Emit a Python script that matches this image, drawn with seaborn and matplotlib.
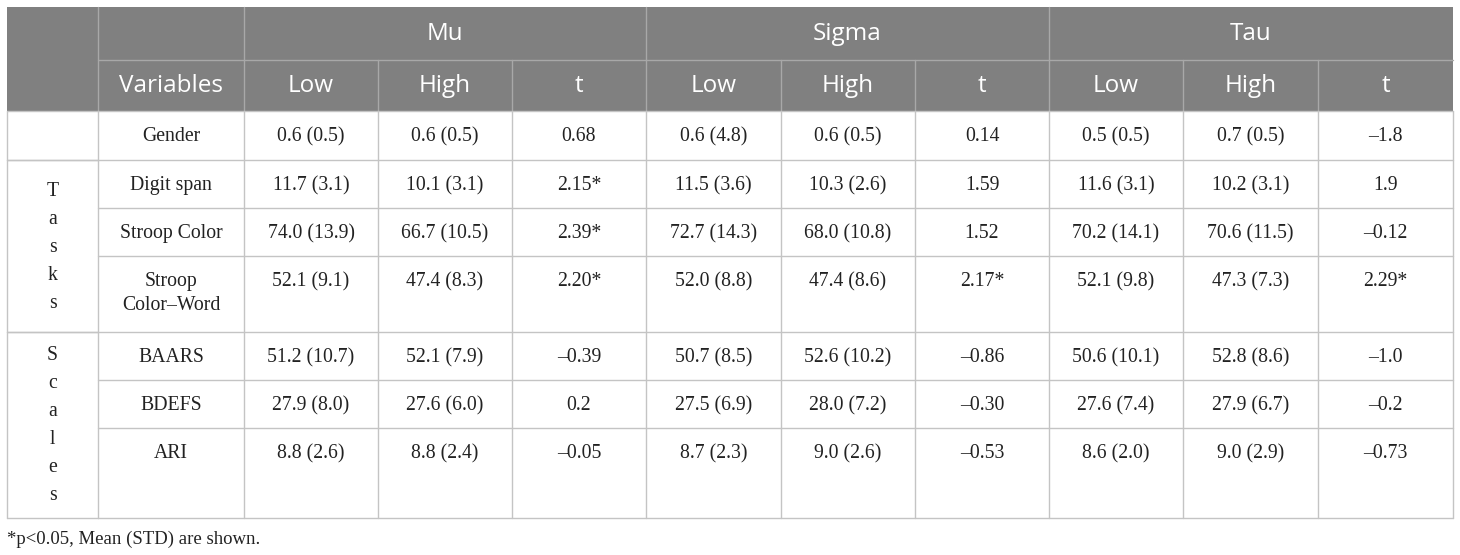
import numpy as np
import seaborn as sns
import matplotlib.pyplot as plt
from matplotlib.patches import Rectangle

# table values
groups = ["Mu", "Sigma", "Tau"]
sub_cols = ["Low", "High", "t"]
variables = ["Gender", "Digit span", "Stroop Color", "Stroop\nColor\u2013Word",
             "BAARS", "BDEFS", "ARI"]
blocks = [("", 0, 1), ("Tasks", 1, 4), ("Scales", 4, 7)]

mu_low_mean = [0.6, 11.7, 74.0, 52.1, 51.2, 27.9, 8.8]
mu_low_sd = [0.5, 3.1, 13.9, 9.1, 10.7, 8.0, 2.6]
mu_high_mean = [0.6, 10.1, 66.7, 47.4, 52.1, 27.6, 8.8]
mu_high_sd = [0.5, 3.1, 10.5, 8.3, 7.9, 6.0, 2.4]
mu_t = ["0.68", "2.15*", "2.39*", "2.20*", "\u20130.39", "0.2", "\u20130.05"]

sigma_low_mean = [0.6, 11.5, 72.7, 52.0, 50.7, 27.5, 8.7]
sigma_low_sd = [4.8, 3.6, 14.3, 8.8, 8.5, 6.9, 2.3]
sigma_high_mean = [0.6, 10.3, 68.0, 47.4, 52.6, 28.0, 9.0]
sigma_high_sd = [0.5, 2.6, 10.8, 8.6, 10.2, 7.2, 2.6]
sigma_t = ["0.14", "1.59", "1.52", "2.17*", "\u20130.86", "\u20130.30", "\u20130.53"]

tau_low_mean = [0.5, 11.6, 70.2, 52.1, 50.6, 27.6, 8.6]
tau_low_sd = [0.5, 3.1, 14.1, 9.8, 10.1, 7.4, 2.0]
tau_high_mean = [0.7, 10.2, 70.6, 47.3, 52.8, 27.9, 9.0]
tau_high_sd = [0.5, 3.1, 11.5, 7.3, 8.6, 6.7, 2.9]
tau_t = ["\u20131.8", "1.9", "\u20130.12", "2.29*", "\u20131.0", "\u20130.2", "\u20130.73"]

footnote = "*p<0.05, Mean (STD) are shown."

def ms(m, s):
    return [f"{a:.1f} ({b:.1f})" for a, b in zip(m, s)]

columns = [
    ms(mu_low_mean, mu_low_sd), ms(mu_high_mean, mu_high_sd), mu_t,
    ms(sigma_low_mean, sigma_low_sd), ms(sigma_high_mean, sigma_high_sd), sigma_t,
    ms(tau_low_mean, tau_low_sd), ms(tau_high_mean, tau_high_sd), tau_t,
]

# layout (pixels)
col_x = [7, 98, 244, 378, 512, 646, 781, 915, 1049, 1183, 1318, 1453]
head_y = [7, 60, 111]
row_y = [111, 160, 208, 256, 332, 380, 428, 518]

sns.set_theme(style="white")
header_font = ["Open Sans", "DejaVu Sans"]
body_font = ["Liberation Serif", "DejaVu Serif"]
head_bg = "#808080"
head_line = "#a8a8a8"
grid = "#c4c4c4"
ink = "#222222"
hsize = 17.5
bsize = 14.2

fig = plt.figure(figsize=(14.6, 5.55), dpi=100)
ax = fig.add_axes([0, 0, 1, 1])
ax.set_xlim(0, 1460)
ax.set_ylim(555, 0)
ax.axis("off")

# header background
ax.add_patch(Rectangle((col_x[0], head_y[0]), col_x[-1] - col_x[0],
                       head_y[2] - head_y[0], color=head_bg, lw=0))
# header lines
lw = 1.0
for x in [col_x[1], col_x[2], col_x[5], col_x[8]]:
    ax.plot([x, x], [head_y[0], head_y[2]], color=head_line, lw=lw)
for x in [col_x[3], col_x[4], col_x[6], col_x[7], col_x[9], col_x[10]]:
    ax.plot([x, x], [head_y[1], head_y[2]], color=head_line, lw=lw)
ax.plot([col_x[1], col_x[-1]], [head_y[1], head_y[1]], color=head_line, lw=lw)

hy1 = (head_y[0] + head_y[1]) / 2 + 1
hy2 = (head_y[1] + head_y[2]) / 2 + 1
for g, name in enumerate(groups):
    xc = (col_x[2 + 3 * g] + col_x[5 + 3 * g]) / 2
    ax.text(xc, hy1, name, ha="center", va="center", color="white",
            fontsize=hsize, family=header_font)
    for k, sub in enumerate(sub_cols):
        i = 2 + 3 * g + k
        ax.text((col_x[i] + col_x[i + 1]) / 2, hy2, sub, ha="center", va="center",
                color="white", fontsize=hsize, family=header_font)
ax.text((col_x[1] + col_x[2]) / 2, hy2, "Variables", ha="center", va="center",
        color="white", fontsize=hsize, family=header_font)

# body grid
for x in col_x:
    ax.plot([x, x], [row_y[0], row_y[-1]], color=grid, lw=lw)
for y in row_y:
    ax.plot([col_x[1], col_x[-1]], [y, y], color=grid, lw=lw)
for name, r0, r1 in blocks:
    for y in (row_y[r0], row_y[r1]):
        ax.plot([col_x[0], col_x[1]], [y, y], color=grid, lw=lw)
    if name:
        yc = (row_y[r0] + row_y[r1]) / 2 + 1
        n = len(name)
        for j, ch in enumerate(name):
            ax.text((col_x[0] + col_x[1]) / 2, yc + (j - (n - 1) / 2) * 28, ch,
                    ha="center", va="center", fontsize=bsize, family=body_font,
                    color=ink)

# body text
for r, var in enumerate(variables):
    ytxt = row_y[r] + 25.5
    if "\n" in var:
        ax.text((col_x[1] + col_x[2]) / 2, ytxt + 12, var, ha="center", va="center",
                fontsize=bsize, family=body_font, color=ink, linespacing=1.3)
    else:
        ax.text((col_x[1] + col_x[2]) / 2, ytxt, var, ha="center", va="center",
                fontsize=bsize, family=body_font, color=ink)
    for c, col in enumerate(columns):
        ax.text((col_x[c + 2] + col_x[c + 3]) / 2, ytxt, col[r], ha="center",
                va="center", fontsize=bsize, family=body_font, color=ink)

ax.text(col_x[0], 539, footnote, ha="left", va="center", fontsize=13.5,
        family=body_font, color=ink)

fig.savefig("out.png", dpi=100)
